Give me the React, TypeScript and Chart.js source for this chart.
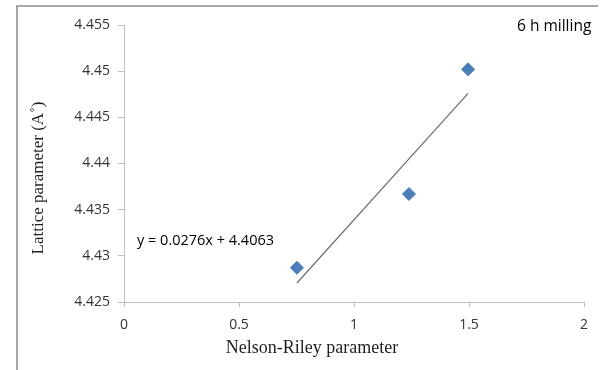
import React, { useEffect, useRef } from "react";
import { Chart, registerables } from "chart.js";

Chart.register(...registerables);

// ---- data ----
const nelsonRiley = [0.752, 1.239, 1.496];
const latticeParam = [4.4287, 4.4367, 4.4502];
const trendSlope = 0.0276;
const trendIntercept = 4.4063;
const equationLabel = "y = 0.0276x + 4.4063";
const annotationLabel = "6 h milling";
const xTicks = [0, 0.5, 1, 1.5, 2];
const yTicks = [4.425, 4.43, 4.435, 4.44, 4.445, 4.45, 4.455];
const xTitle = "Nelson-Riley parameter";
const yTitle = "Lattice parameter (A˚)";

const sans = "'Open Sans', 'Noto Sans', sans-serif";
const serif = "'Liberation Serif', 'Times New Roman', serif";

const fmt = (v: number) => String(parseFloat(v.toFixed(4)));

const decorPlugin = {
  id: "decor",
  afterDraw(chart: any) {
    const ctx = chart.ctx as CanvasRenderingContext2D;
    ctx.save();
    // outer chart border (top & left visible)
    ctx.strokeStyle = "#8a8a8a";
    ctx.lineWidth = 1.5;
    ctx.beginPath();
    ctx.moveTo(17, 370);
    ctx.lineTo(17, 6);
    ctx.lineTo(598, 6);
    ctx.stroke();

    // equation label
    ctx.fillStyle = "#000000";
    ctx.font = `14.5px ${sans}`;
    ctx.textAlign = "left";
    ctx.textBaseline = "middle";
    ctx.fillText(equationLabel, 137, 241);

    // annotation
    ctx.font = `15.5px ${sans}`;
    ctx.fillText(annotationLabel, 517, 27);

    // x title
    ctx.fillStyle = "#1f1f1f";
    ctx.font = `18px ${serif}`;
    ctx.textAlign = "center";
    ctx.fillText(xTitle, 312, 348);

    // y title
    ctx.font = `17px ${serif}`;
    ctx.translate(39, 178);
    ctx.rotate(-Math.PI / 2);
    ctx.fillText(yTitle, 0, 0);
    ctx.restore();
  },
};

export default function App() {
  const ref = useRef<HTMLCanvasElement | null>(null);

  useEffect(() => {
    if (!ref.current) return;
    const xs = nelsonRiley;
    const xMin = Math.min(...xs);
    const xMax = Math.max(...xs);
    const trend = [xMin, xMax].map((x) => ({ x, y: trendSlope * x + trendIntercept }));

    const chart = new Chart(ref.current, {
      type: "scatter",
      data: {
        datasets: [
          {
            label: "Lattice parameter",
            data: nelsonRiley.map((x, i) => ({ x, y: latticeParam[i] })),
            pointStyle: "rectRot",
            pointRadius: 6.5,
            pointBorderWidth: 1,
            backgroundColor: "#4a7ebb",
            borderColor: "#4a7ebb",
            order: 1,
          },
          {
            label: "Trend",
            data: trend,
            showLine: true,
            pointRadius: 0,
            borderColor: "#6e6e6e",
            borderWidth: 1.2,
            order: 2,
          },
        ],
      },
      options: {
        responsive: false,
        animation: false,
        devicePixelRatio: 1,
        layout: { padding: { top: 25, right: 24, left: 0, bottom: 0 } },
        plugins: {
          legend: { display: false },
          tooltip: { enabled: false },
          title: { display: false },
        },
        scales: {
          x: {
            type: "linear",
            min: 0,
            max: 2,
            afterBuildTicks: (s: any) => {
              s.ticks = xTicks.map((v) => ({ value: v }));
            },
            afterFit: (s: any) => {
              s.height = 68;
            },
            grid: {
              display: true,
              drawOnChartArea: false,
              drawTicks: true,
              tickLength: 5,
              color: "#bfbfbf",
            },
            border: { display: true, color: "#bfbfbf", width: 1 },
            ticks: {
              padding: 10,
              color: "#333333",
              font: { family: sans, size: 14 },
              callback: (v: any) => fmt(Number(v)),
              maxRotation: 0,
              autoSkip: false,
            },
          },
          y: {
            type: "linear",
            min: 4.425,
            max: 4.455,
            afterBuildTicks: (s: any) => {
              s.ticks = yTicks.map((v) => ({ value: v }));
            },
            afterFit: (s: any) => {
              s.width = 124;
            },
            grid: {
              display: true,
              drawOnChartArea: false,
              drawTicks: true,
              tickLength: 6,
              color: "#bfbfbf",
            },
            border: { display: true, color: "#bfbfbf", width: 1 },
            ticks: {
              padding: 8,
              color: "#333333",
              font: { family: sans, size: 14 },
              callback: (v: any) => fmt(Number(v)),
              autoSkip: false,
            },
          },
        },
      },
      plugins: [decorPlugin],
    });
    return () => chart.destroy();
  }, []);

  return (
    <div
      style={{
        position: "absolute",
        left: 0,
        top: 0,
        width: 608,
        height: 370,
        background: "#ffffff",
      }}
    >
      <canvas ref={ref} width={608} height={370} style={{ width: 608, height: 370 }} />
    </div>
  );
}
